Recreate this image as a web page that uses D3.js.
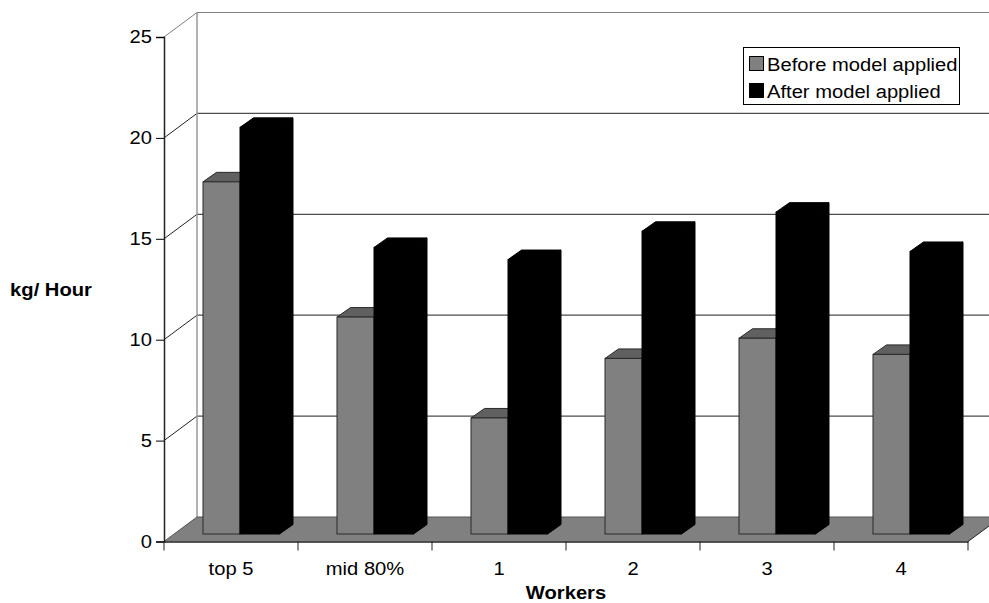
<!DOCTYPE html>
<html>
<head>
<meta charset="utf-8">
<script src="https://cdn.jsdelivr.net/npm/d3@7"></script>
<style>
  html, body { margin: 0; padding: 0; background: #fff; }
  svg { display: block; }
  text { font-family: "Liberation Sans", Arial, sans-serif; fill: #000; }
</style>
</head>
<body>
<div id="chart"></div>
<script>
const categories = ["top 5", "mid 80%", "1", "2", "3", "4"];
const seriesNames = ["Before model applied", "After model applied"];
const beforeValues = [17.45, 10.75, 5.75, 8.7, 9.7, 8.9];
const afterValues = [20.15, 14.2, 13.6, 15.0, 15.95, 14.0];
const yTicks = [0, 5, 10, 15, 20, 25];

const width = 989, height = 603;
const x0 = 164, x1 = 968;      // front of the floor
const yBase = 541.5, yTop = 37;
const wallDx = 33, wallDy = -24.5; // depth of the box
const barDx = 13.5, barDy = -9.5;  // depth of one bar
const barOffX = 39, barOffY = -7.5; // bars stand in the middle of the floor
const fontSize = "18px";
const textStretch = 1.12; // reference text is wider than its height suggests

// widen text a little without turning it into paths
const stretch = (sel) => sel.each(function () {
    d3.select(this)
        .attr("textLength", this.getComputedTextLength() * textStretch)
        .attr("lengthAdjust", "spacingAndGlyphs");
});

const svg = d3.select("#chart").append("svg")
    .attr("width", width)
    .attr("height", height);

const xScale = d3.scaleBand().domain(categories).range([x0, x1]);
const yScale = d3.scaleLinear().domain([0, 25]).range([yBase, yTop]);
const seriesScale = d3.scaleOrdinal().domain(seriesNames).range([0, 37]);
const barWidths = d3.scaleOrdinal().domain(seriesNames).range([37, 39.5]);

// back wall, gridlines and slanted side lines
const walls = svg.append("g");
walls.selectAll("line.back")
    .data(yTicks.slice(1))
    .join("line")
    .attr("class", "back")
    .attr("x1", x0 + wallDx).attr("x2", width)
    .attr("y1", d => yScale(d) + wallDy).attr("y2", d => yScale(d) + wallDy)
    .attr("stroke", d => d === 25 ? "#808080" : "#4d4d4d")
    .attr("stroke-width", 1.2);
walls.selectAll("line.side")
    .data(yTicks.slice(1))
    .join("line")
    .attr("class", "side")
    .attr("x1", x0).attr("x2", x0 + wallDx)
    .attr("y1", d => yScale(d)).attr("y2", d => yScale(d) + wallDy)
    .attr("stroke", d => d === 25 ? "#808080" : "#222")
    .attr("stroke-width", 1);
walls.append("line")
    .attr("x1", x0 + wallDx).attr("x2", x0 + wallDx)
    .attr("y1", yScale(25) + wallDy).attr("y2", yBase + wallDy)
    .attr("stroke", "#999")
    .attr("stroke-width", 1.5);

// floor
svg.append("path")
    .attr("d", d3.line()([
        [x0, yBase], [x0 + wallDx, yBase + wallDy], [width + 2, yBase + wallDy],
        [x1 + 21, yBase - 15.5], [x1, yBase]
    ]))
    .attr("fill", "#808080");
svg.append("line")
    .attr("x1", x0 + wallDx).attr("x2", width)
    .attr("y1", yBase + wallDy).attr("y2", yBase + wallDy)
    .attr("stroke", "#555").attr("stroke-width", 1.2);
svg.append("line")
    .attr("x1", x0).attr("x2", x0 + wallDx)
    .attr("y1", yBase).attr("y2", yBase + wallDy)
    .attr("stroke", "#555").attr("stroke-width", 1);
svg.append("line")
    .attr("x1", x1).attr("x2", x1 + 21)
    .attr("y1", yBase).attr("y2", yBase - 15.5)
    .attr("stroke", "#222").attr("stroke-width", 1);

// bars, drawn as front, top and side faces
const barRows = [
    { name: seriesNames[0], values: beforeValues, front: "#808080", top: "#606060", side: "#404040", edge: "#2a2a2a" },
    { name: seriesNames[1], values: afterValues, front: "#000", top: "#000", side: "#000", edge: "#000" }
];
categories.forEach((cat, i) => {
    barRows.forEach(row => {
        const left = xScale(cat) + barOffX + seriesScale(row.name);
        const right = left + barWidths(row.name);
        const yb = yBase + barOffY;
        const yt = yScale(row.values[i]) + barOffY;
        const g = svg.append("g").attr("class", "bar");
        g.append("path")
            .attr("d", d3.line()([[left, yt], [left + barDx, yt + barDy], [right + barDx, yt + barDy], [right, yt]]) + "Z")
            .attr("fill", row.top).attr("stroke", row.edge);
        g.append("path")
            .attr("d", d3.line()([[right, yt], [right + barDx, yt + barDy], [right + barDx, yb + barDy], [right, yb]]) + "Z")
            .attr("fill", row.side).attr("stroke", row.edge);
        g.append("rect")
            .attr("x", left).attr("y", yt)
            .attr("width", right - left).attr("height", yb - yt)
            .attr("fill", row.front).attr("stroke", row.edge).attr("stroke-width", 1);
    });
});

// axes
const yAxis = d3.axisLeft(yScale).tickValues(yTicks).tickSize(8).tickPadding(4);
const yG = svg.append("g").attr("transform", `translate(${x0},0)`).call(yAxis);
yG.selectAll("text").style("font-size", fontSize).call(stretch);

const xAxis = d3.axisBottom(xScale).tickSize(0).tickPadding(20.5);
const xG = svg.append("g").attr("transform", `translate(0,${yBase})`).call(xAxis);
xG.selectAll("text").style("font-size", fontSize).call(stretch);
xG.selectAll(".tick line").remove();
xG.selectAll("line.sep")
    .data(d3.range(categories.length + 1))
    .join("line")
    .attr("class", "sep")
    .attr("x1", d => x0 + d * xScale.bandwidth())
    .attr("x2", d => x0 + d * xScale.bandwidth())
    .attr("y1", 0).attr("y2", 9)
    .attr("stroke", "#222");
svg.selectAll(".domain").attr("stroke", "#222").attr("stroke-width", 1.5);

// axis titles
svg.append("text")
    .attr("x", 51).attr("y", 296)
    .attr("text-anchor", "middle")
    .style("font-size", fontSize).style("font-weight", "bold")
    .text("kg/ Hour")
    .call(stretch);
svg.append("text")
    .attr("x", 566).attr("y", 599)
    .attr("text-anchor", "middle")
    .style("font-size", fontSize).style("font-weight", "bold")
    .text("Workers")
    .call(stretch);

// legend
const legend = svg.append("g").attr("transform", "translate(743,47)");
legend.append("rect")
    .attr("x", 0.5).attr("y", 0.5).attr("width", 216).attr("height", 57)
    .attr("fill", "#fff").attr("stroke", "#000");
const legendRows = legend.selectAll("g")
    .data(barRows)
    .join("g")
    .attr("transform", (d, i) => `translate(6,${9 + i * 27})`);
legendRows.append("rect")
    .attr("x", 0.5).attr("y", 0.5).attr("width", 14).attr("height", 14)
    .attr("fill", d => d.front).attr("stroke", "#000");
legendRows.append("text")
    .attr("x", 18).attr("y", 15)
    .style("font-size", fontSize)
    .text(d => d.name)
    .call(stretch);
</script>
</body>
</html>
